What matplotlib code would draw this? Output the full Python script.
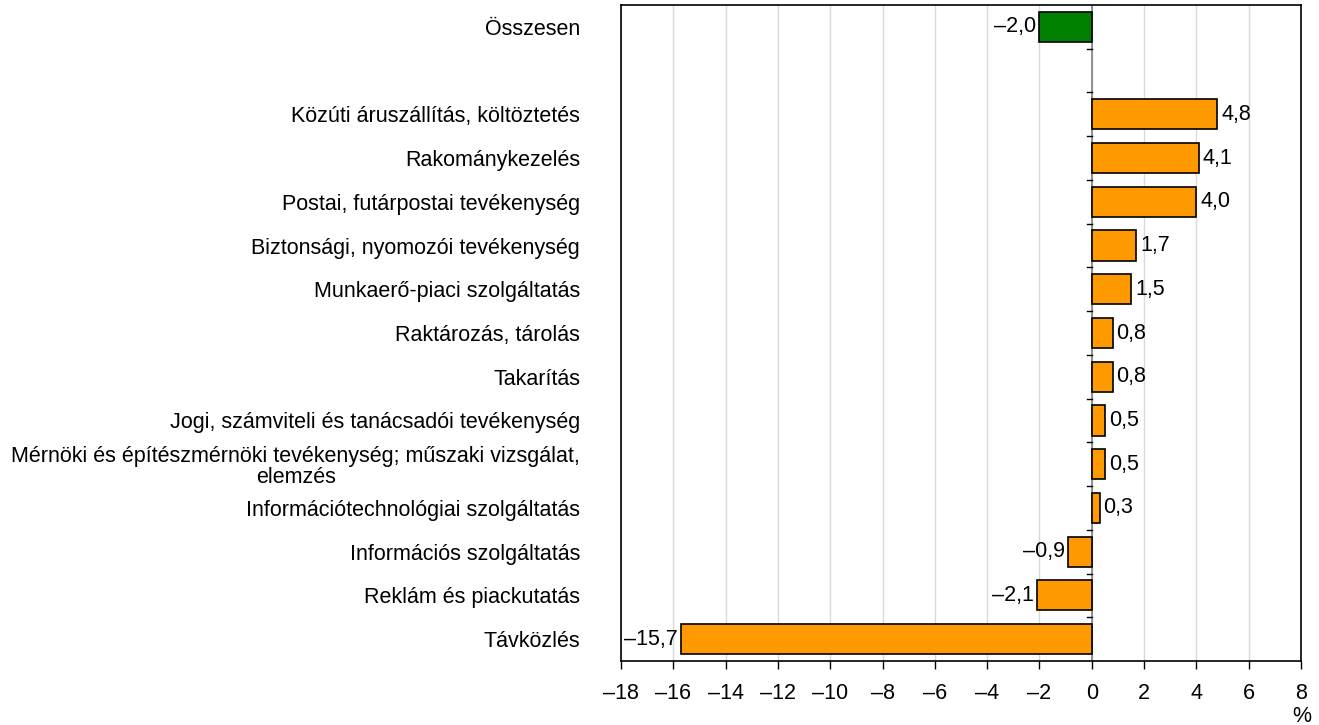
import matplotlib
matplotlib.use("Agg")
import matplotlib.pyplot as plt
import numpy as np

plt.rcParams['font.family'] = ['Liberation Sans', 'DejaVu Sans']

total_label = "Összesen"
total_value = -2.0

categories = [
    "Közúti áruszállítás, költöztetés",
    "Rakománykezelés",
    "Postai, futárpostai tevékenység",
    "Biztonsági, nyomozói tevékenység",
    "Munkaerő-piaci szolgáltatás",
    "Raktározás, tárolás",
    "Takarítás",
    "Jogi, számviteli és tanácsadói tevékenység",
    "Mérnöki és építészmérnöki tevékenység; műszaki vizsgálat,\nelemzés",
    "Információtechnológiai szolgáltatás",
    "Információs szolgáltatás",
    "Reklám és piackutatás",
    "Távközlés",
]
values = [4.8, 4.1, 4.0, 1.7, 1.5, 0.8, 0.8, 0.5, 0.5, 0.3, -0.9, -2.1, -15.7]

xticks = list(range(-18, 9, 2))

FS = 15.5


def fmt(v):
    s = ("%.1f" % abs(v)).replace(".", ",")
    return ("\u2013" + s) if v < 0 else s


fig = plt.figure(figsize=(13.19, 7.25), dpi=100)
ax = fig.add_axes([621 / 1319, 1 - 661 / 725, 680 / 1319, 656 / 725])

# slot 0 = total, slot 1 empty, then the categories
pos_total = 0
pos = np.arange(len(categories)) + 2
nslots = len(categories) + 2

ax.barh(pos_total, total_value, height=0.69, color="#008000",
        edgecolor="black", linewidth=1.2, zorder=3)
ax.barh(pos, values, height=0.69, color="#FF9900",
        edgecolor="black", linewidth=1.2, zorder=3)

ax.set_xlim(-18, 8)
ax.set_ylim(nslots - 0.5, -0.5)
ax.set_xticks(xticks)
ax.set_xticklabels([("\u2013%d" % -t) if t < 0 else str(t) for t in xticks],
                   fontsize=FS)
ax.tick_params(axis="x", direction="out", length=6, width=1, pad=10)

ax.set_yticks([pos_total] + list(pos))
labels = ax.set_yticklabels([total_label] + categories, fontsize=FS)
for lab in labels:
    lab.set_multialignment("center")
    lab.set_linespacing(1.0)
ax.tick_params(axis="y", length=0, pad=29.5)

ax.grid(axis="x", color="#d9d9d9", linewidth=1, zorder=0)
ax.axvline(0, color="#808080", linewidth=1.2, zorder=2)
for b in np.arange(nslots - 1) + 0.5:
    ax.plot([-0.2, 0], [b, b], color="black", linewidth=1, zorder=2)

for sp in ax.spines.values():
    sp.set_linewidth(1.2)
    sp.set_color("black")

for p, v in zip([pos_total] + list(pos), [total_value] + values):
    if v >= 0:
        ax.text(v + 0.15, p, fmt(v), va="center", ha="left", fontsize=FS, zorder=4)
    else:
        ax.text(v - 0.12, p, fmt(v), va="center", ha="right", fontsize=FS, zorder=4)

fig.text(1302 / 1319, 1 - 717 / 725, "%", ha="center", va="center", fontsize=FS)

fig.savefig("out.png", dpi=100)
